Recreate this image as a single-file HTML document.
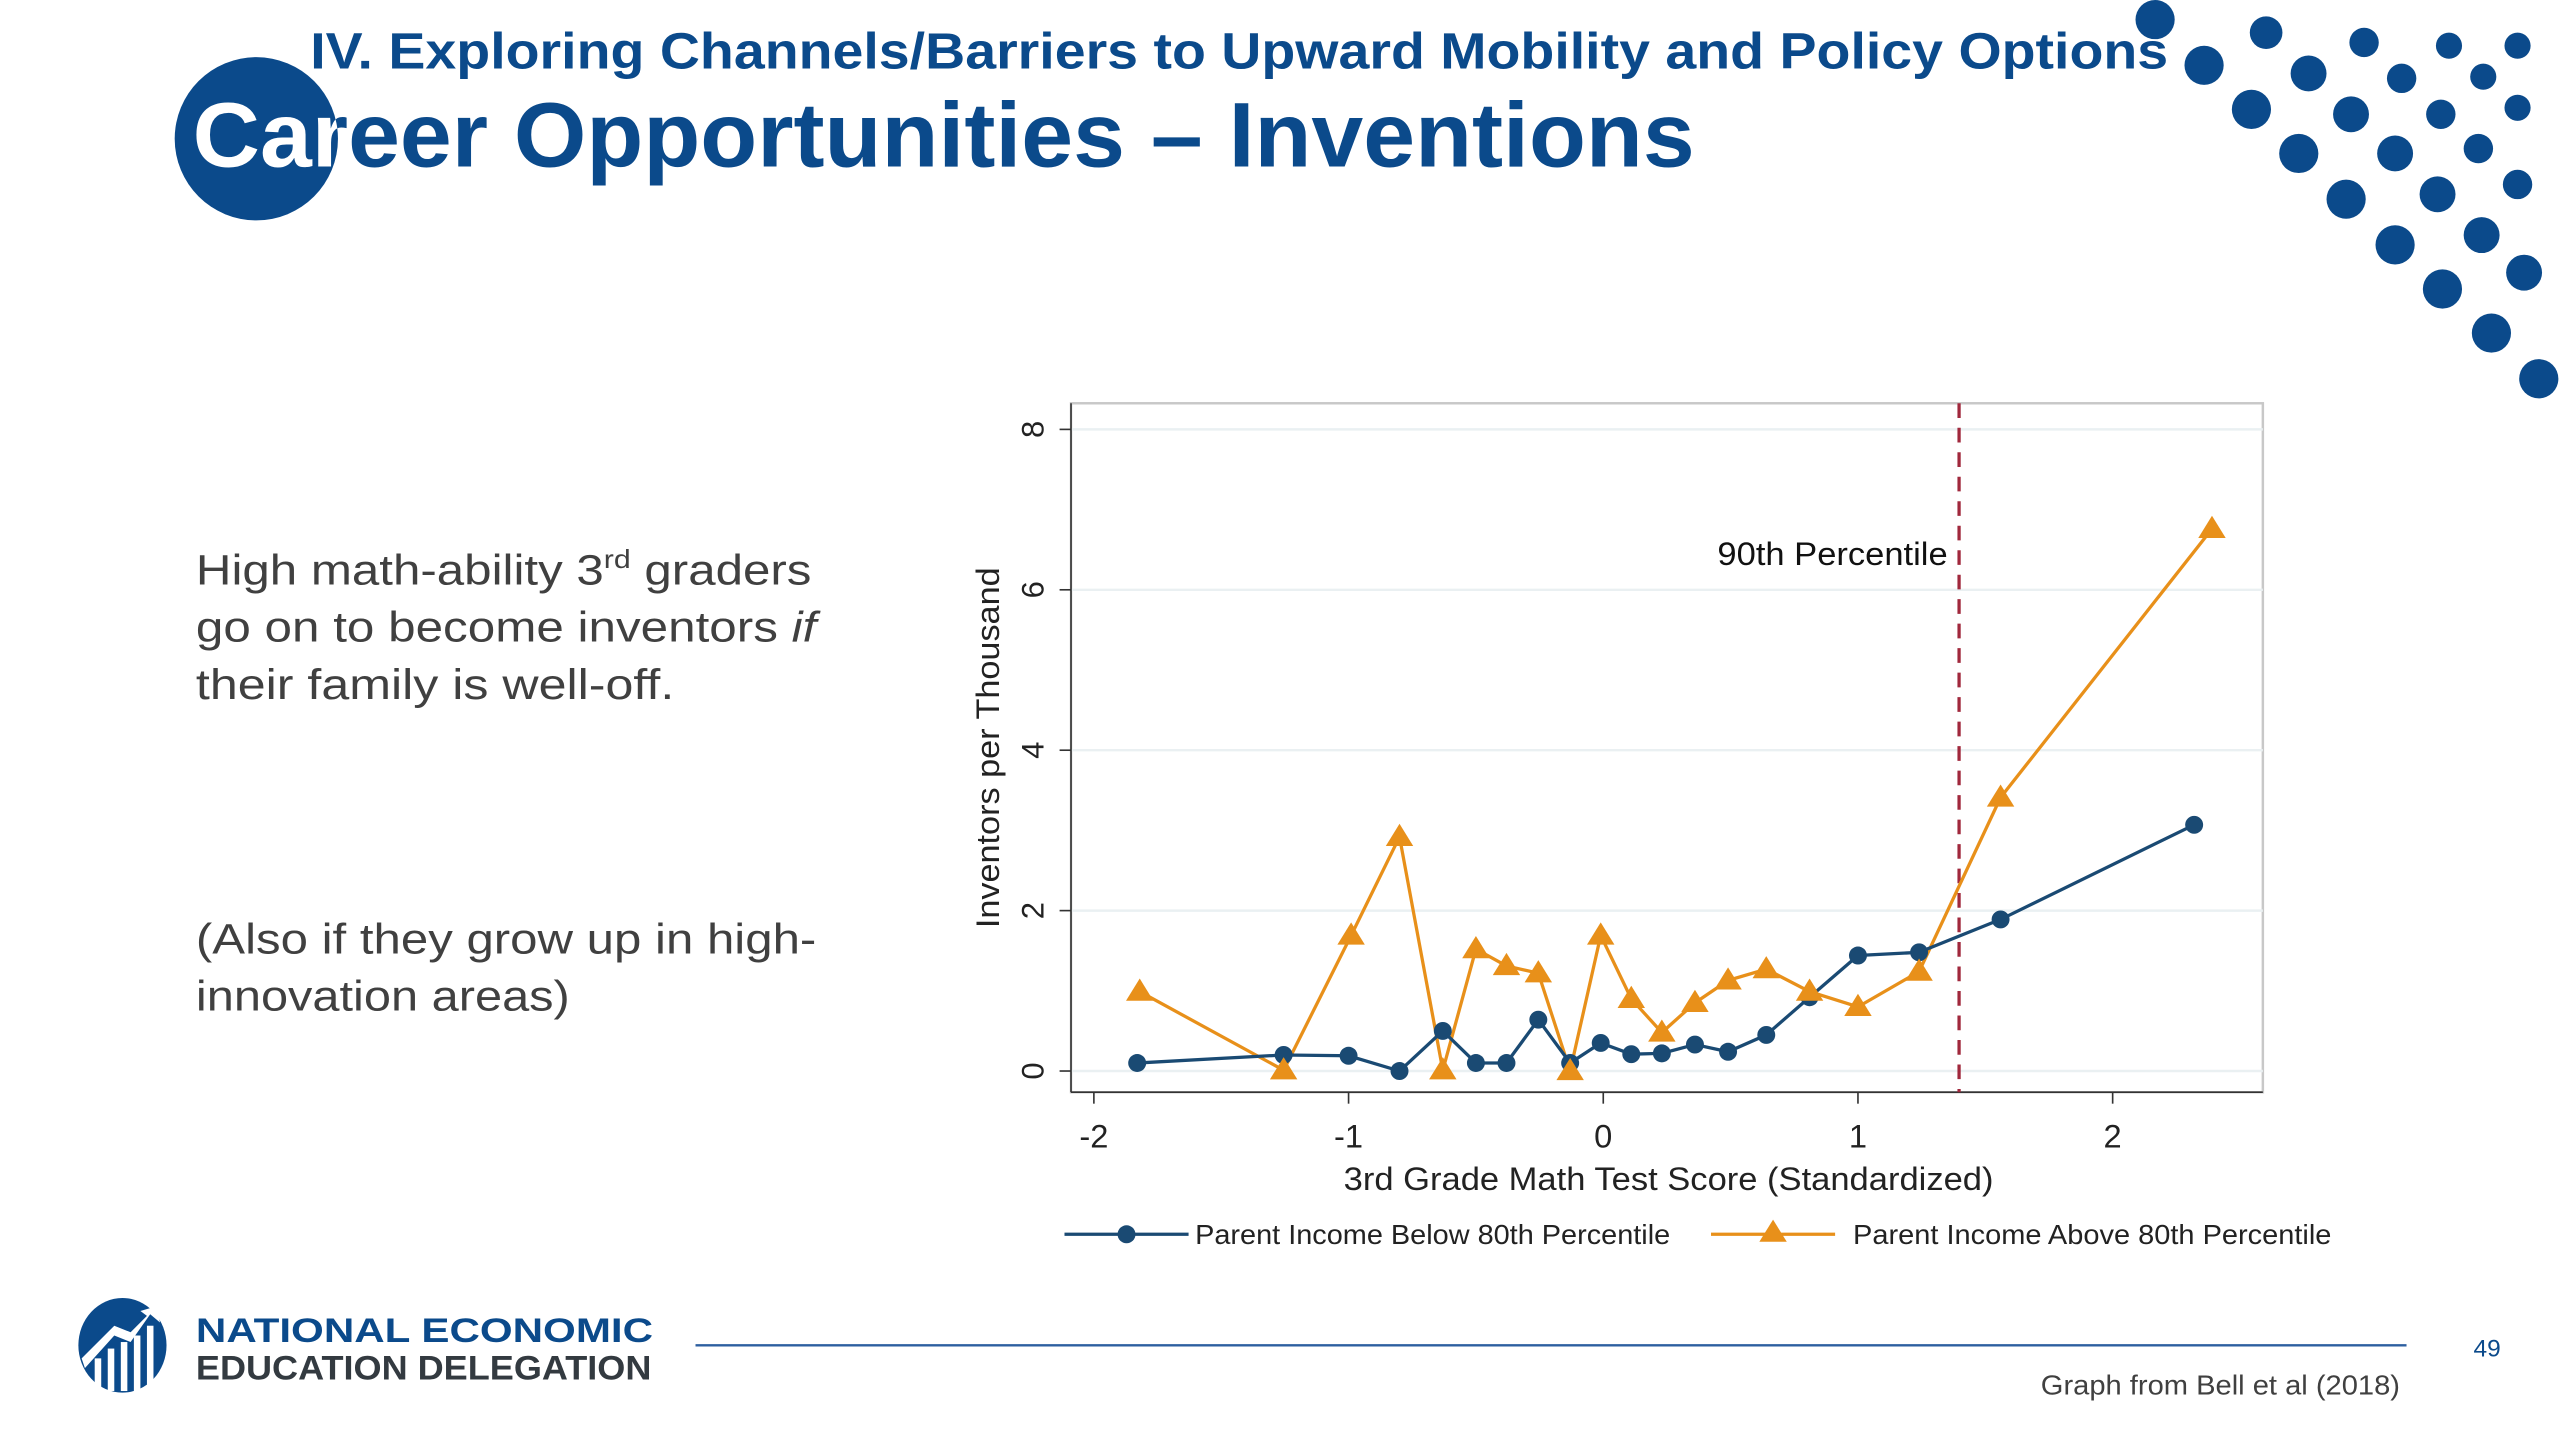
<!DOCTYPE html>
<html><head><meta charset="utf-8"><style>
html,body{margin:0;padding:0;background:#fff;}
svg{display:block;}
</style></head><body>
<svg id="s" width="2560" height="1440" viewBox="0 0 1568 882" xmlns="http://www.w3.org/2000/svg" font-family="Liberation Sans, sans-serif">
<defs><clipPath id="cc"><circle cx="157" cy="85" r="50"/></clipPath></defs>
<g>
<text x="190" y="42" font-size="31" font-weight="bold" fill="#0b4a8b" textLength="1138" lengthAdjust="spacingAndGlyphs">IV. Exploring Channels/Barriers to Upward Mobility and Policy Options</text>
<circle cx="157" cy="85" r="50" fill="#0b4a8b"/>
<text x="118" y="102" font-size="56" font-weight="bold" fill="#0b4a8b" textLength="920" lengthAdjust="spacingAndGlyphs">Career Opportunities – Inventions</text>
<text x="118" y="102" font-size="56" font-weight="bold" fill="#fff" textLength="920" lengthAdjust="spacingAndGlyphs" clip-path="url(#cc)">Career Opportunities – Inventions</text>
</g>
<g id="dots" fill="#0b4a8b"></g>
<g fill="#404040" font-size="26">
<text x="120" y="358" textLength="377" lengthAdjust="spacingAndGlyphs">High math-ability 3<tspan font-size="16" dy="-10">rd</tspan><tspan dy="10"> graders</tspan></text>
<text x="120" y="393" textLength="380" lengthAdjust="spacingAndGlyphs">go on to become inventors <tspan font-style="italic">if</tspan></text>
<text x="120" y="428" textLength="293" lengthAdjust="spacingAndGlyphs">their family is well-off.</text>
<text x="120" y="584" textLength="380" lengthAdjust="spacingAndGlyphs">(Also if they grow up in high-</text>
<text x="120" y="619" textLength="229" lengthAdjust="spacingAndGlyphs">innovation areas)</text>
</g>
<g id="chart"></g>
<g>
<g>
<ellipse cx="75" cy="824" rx="27" ry="29" fill="#0b4a8b"/>
<path d="M52 838 L70 818 L80 822 L92 805 L98 810 L96 800 L86 803 L90 806 L80 816 L70 812 L50 832Z" fill="#fff"/>
<rect x="58" y="832" width="4" height="20" fill="#fff"/><rect x="66" y="826" width="4" height="26" fill="#fff"/><rect x="74" y="822" width="4" height="30" fill="#fff"/><rect x="82" y="818" width="4" height="34" fill="#fff"/><rect x="90" y="812" width="4" height="38" fill="#fff"/>
</g>
<text x="120" y="822" font-size="21" font-weight="bold" fill="#0b4a8b" textLength="280" lengthAdjust="spacingAndGlyphs">NATIONAL ECONOMIC</text>
<text x="120" y="845" font-size="21" font-weight="bold" fill="#333a40" textLength="279" lengthAdjust="spacingAndGlyphs">EDUCATION DELEGATION</text>
<line x1="426" y1="824" x2="1474" y2="824" stroke="#2d5fa0" stroke-width="1.5"/>
<text x="1515" y="831" font-size="15" fill="#0b4a8b">49</text>
<text x="1250" y="854" font-size="17" fill="#404040" textLength="220" lengthAdjust="spacingAndGlyphs">Graph from Bell et al (2018)</text>
</g>
</svg>
<script>
const dotData=[[1320,12,12],[1388,20,10],[1448,26,9],[1500,28,8],[1542,28,8],[1350,40,12],[1414,45,11],[1471,48,9],[1521,47,8],[1379,67,12],[1440,70,11],[1495,70,9],[1542,66,8],[1408,94,12],[1467,94,11],[1518,91,9],[1437,122,12],[1493,119,11],[1542,113,9],[1467,150,12],[1520,144,11],[1496,177,12],[1546,167,11],[1526,204,12],[1555,232,12]];
const blueX=[-1.83,-1.255,-1.0,-0.8,-0.63,-0.5,-0.38,-0.255,-0.13,-0.01,0.11,0.23,0.36,0.49,0.64,0.81,1.0,1.24,1.56,2.32];
const blueY=[0.1,0.2,0.19,0.0,0.5,0.1,0.1,0.64,0.1,0.35,0.21,0.22,0.33,0.24,0.45,0.92,1.44,1.48,1.89,3.07];
const orangeX=[-1.82,-1.255,-0.99,-0.8,-0.63,-0.5,-0.38,-0.255,-0.13,-0.01,0.11,0.23,0.36,0.49,0.64,0.81,1.0,1.24,1.56,2.39];
const orangeY=[0.99,0.01,1.69,2.92,0.01,1.52,1.31,1.22,0.0,1.69,0.9,0.48,0.85,1.13,1.27,0.99,0.8,1.24,3.41,6.76];
const xTicks=[-2,-1,0,1,2];
const yTicks=[0,2,4,6,8];
const cutoffX=1.397;
const NS='http://www.w3.org/2000/svg';
function mk(p,tag,at){const e=document.createElementNS(NS,tag);for(const k in at)e.setAttribute(k,at[k]);p.appendChild(e);return e;}
const dg=document.getElementById('dots');
dotData.forEach(d=>{const c=mk(dg,'circle',{cx:d[0],cy:d[1],r:d[2]});

});
const g=document.getElementById('chart');
const L=656,R=1386,T=247,B=669;
const sx=v=>982+v*156;
const sy=v=>656-v*49.125;
mk(g,'rect',{x:L,y:T,width:R-L,height:B-T,fill:'#fff',stroke:'#c8c8c8','stroke-width':1.5});
yTicks.forEach(t=>{
 const gl=mk(g,'line',{x1:L,x2:R,y1:sy(t),y2:sy(t),stroke:'#eaf0f2','stroke-width':1.5});
 
 
 mk(g,'line',{x1:L-7,x2:L,y1:sy(t),y2:sy(t),stroke:'#333','stroke-width':1});
 const tx=mk(g,'text',{x:0,y:0,'font-size':19,fill:'#222','text-anchor':'middle',transform:`translate(639,${sy(t)}) rotate(-90)`});
 tx.textContent=t;
 
 
});
mk(g,'line',{x1:L,x2:L,y1:T,y2:B,stroke:'#333','stroke-width':1});
mk(g,'line',{x1:L,x2:R,y1:B,y2:B,stroke:'#333','stroke-width':1});
xTicks.forEach(t=>{
 mk(g,'line',{x1:sx(t),x2:sx(t),y1:B,y2:B+7,stroke:'#333','stroke-width':1});
 const tx=mk(g,'text',{x:sx(t),y:703,'font-size':20,fill:'#222','text-anchor':'middle'});
 tx.textContent=t;
 
 
});
const yt=mk(g,'text',{x:0,y:0,'font-size':20,fill:'#222','text-anchor':'middle',textLength:221,lengthAdjust:'spacingAndGlyphs',transform:'translate(612,458) rotate(-90)'});
yt.textContent='Inventors per Thousand';


const xt=mk(g,'text',{x:1022,y:729,'font-size':20,fill:'#222','text-anchor':'middle',textLength:398,lengthAdjust:'spacingAndGlyphs'});
xt.textContent='3rd Grade Math Test Score (Standardized)';


const cl=mk(g,'line',{x1:sx(cutoffX),x2:sx(cutoffX),y1:T,y2:B,stroke:'#a0283c','stroke-width':2,'stroke-dasharray':'9,6'});


const ct=mk(g,'text',{x:sx(cutoffX)-7,y:346,'font-size':20,fill:'#111','text-anchor':'end',textLength:141,lengthAdjust:'spacingAndGlyphs'});
ct.textContent='90th Percentile';


const blue='#1a4a73',orange='#e8901a';
const tri=(x,y,s)=>`${x},${y-s} ${x-s*1.05},${y+s*0.7} ${x+s*1.05},${y+s*0.7}`;
const ol=mk(g,'polyline',{points:orangeX.map((x,i)=>sx(x)+','+sy(orangeY[i])).join(' '),fill:'none',stroke:orange,'stroke-width':2});


const bl=mk(g,'polyline',{points:blueX.map((x,i)=>sx(x)+','+sy(blueY[i])).join(' '),fill:'none',stroke:blue,'stroke-width':2});


blueX.forEach((x,i)=>{const c=mk(g,'circle',{cx:sx(x),cy:sy(blueY[i]),r:5.5,fill:blue});

});
orangeX.forEach((x,i)=>{const p=mk(g,'polygon',{points:tri(sx(x),sy(orangeY[i]),8),fill:orange});

});
const lg=mk(g,'g',{});


mk(lg,'line',{x1:652,x2:728,y1:756,y2:756,stroke:blue,'stroke-width':2});
mk(lg,'circle',{cx:690,cy:756,r:5.5,fill:blue});
const l1=mk(lg,'text',{x:732,y:762,'font-size':17,fill:'#222',textLength:291,lengthAdjust:'spacingAndGlyphs'});
l1.textContent='Parent Income Below 80th Percentile';


mk(lg,'line',{x1:1048,x2:1124,y1:756,y2:756,stroke:orange,'stroke-width':2});
mk(lg,'polygon',{points:tri(1086,755,8),fill:orange});
const l2=mk(lg,'text',{x:1135,y:762,'font-size':17,fill:'#222',textLength:293,lengthAdjust:'spacingAndGlyphs'});
l2.textContent='Parent Income Above 80th Percentile';


</script>
</body></html>
